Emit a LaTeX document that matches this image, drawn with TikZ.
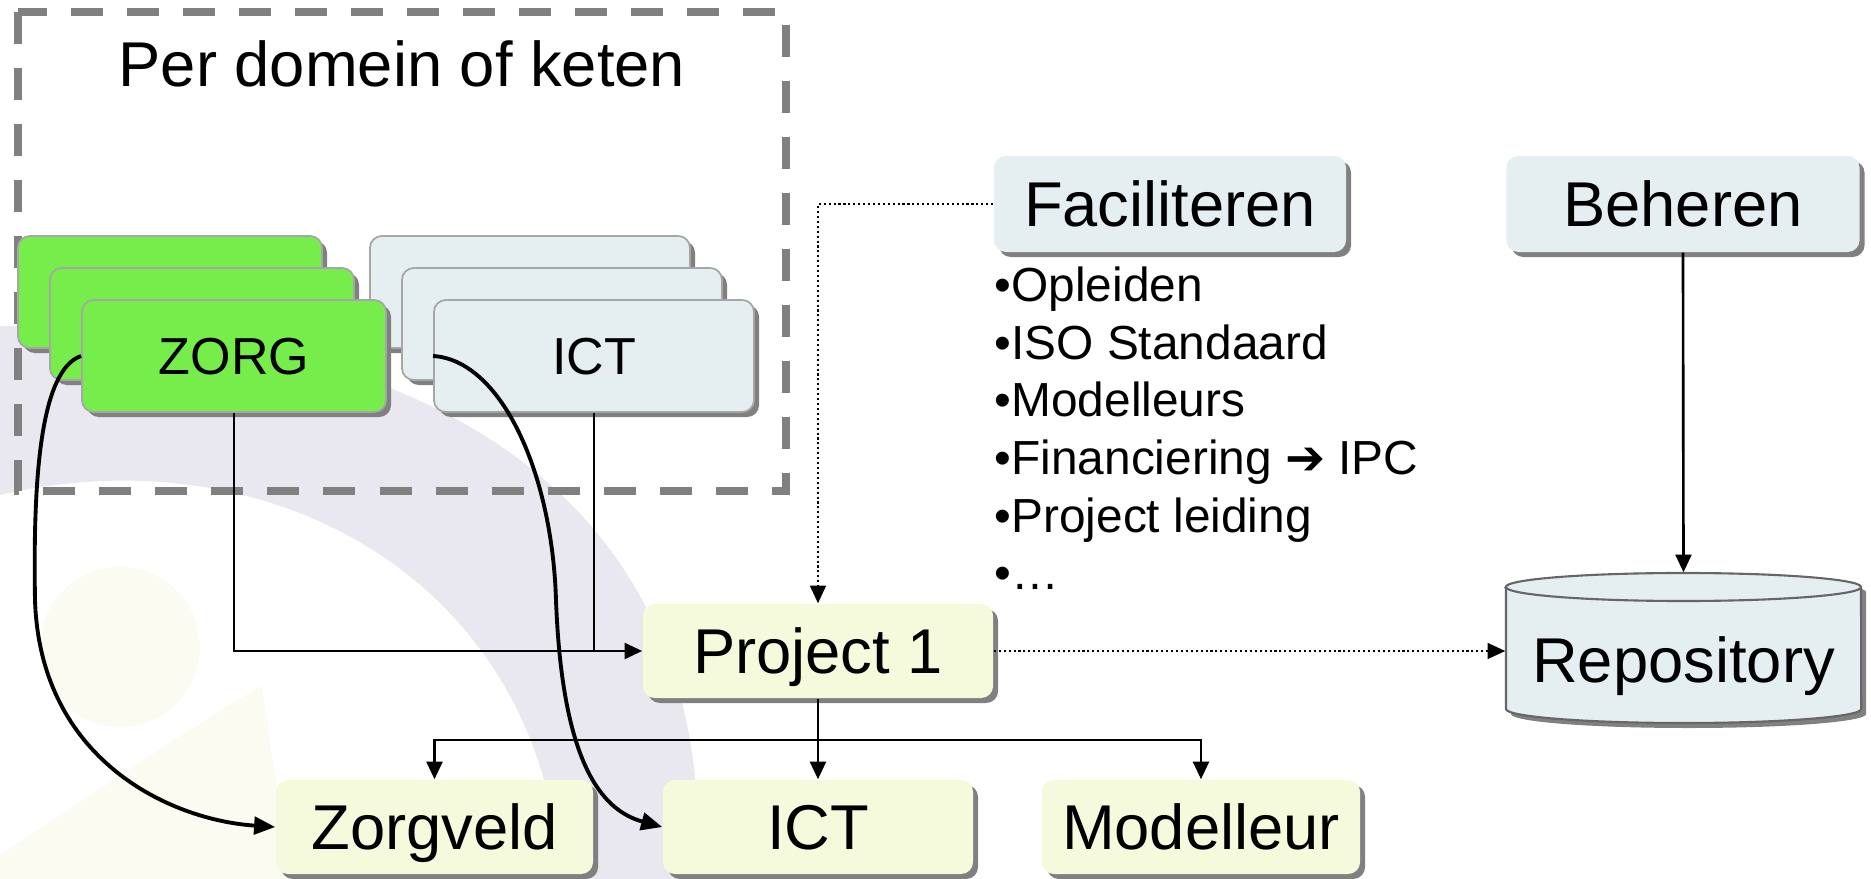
\documentclass[tikz,border=0pt]{standalone}
\usepackage{fontspec}
\setmainfont{Liberation Sans}
\newfontfamily\dingfont{DejaVu Sans}
\usetikzlibrary{shapes.geometric,calc,shadows,arrows.meta}

\definecolor{zorggreen}{RGB}{119,237,76}
\definecolor{ictgrey}{RGB}{229,238,241}
\definecolor{projyellow}{RGB}{245,250,221}
\definecolor{framegrey}{RGB}{128,128,128}
\definecolor{wmlav}{RGB}{233,231,239}
\definecolor{wmyel}{RGB}{251,251,242}

\tikzset{
  shadowed/.style={drop shadow={shadow xshift=0.05cm, shadow yshift=-0.05cm, fill=black!50, opacity=1}},
  stackbox/.style={rectangle, rounded corners=0.12cm, draw=black!35, line width=0.5pt, shadowed, minimum height=1.12cm, text height=10.6pt, text depth=0pt, font=\fontsize{14.8}{17}\selectfont},
  zorgstack/.style={stackbox, fill=zorggreen, minimum width=3.04cm},
  ictstack/.style={stackbox, fill=ictgrey, minimum width=3.2cm},
  bigbox/.style={rectangle, rounded corners=0.12cm, shadowed, text height=12.9pt, text depth=0pt, font=\fontsize{18}{21}\selectfont},
  projbox/.style={bigbox, fill=projyellow, minimum height=0.94cm},
  greybox/.style={bigbox, fill=ictgrey, minimum height=0.96cm},
  titletext/.style={font=\fontsize{18}{21}\selectfont, inner sep=0pt},
  listtext/.style={font=\fontsize{13.6}{16.4}\selectfont, align=left, inner sep=0pt},
  dashframe/.style={draw=framegrey, line width=2pt, dash pattern=on 0.32cm off 0.24cm},
  conn/.style={line width=0.75pt, -{Triangle[length=5pt,width=4.5pt]}},
  curvconn/.style={line width=1.1pt, -{Triangle[length=6pt,width=5pt]}},
  dotconn/.style={line width=0.6pt, dash pattern=on 0.6pt off 0.8pt, -{Triangle[length=5pt,width=4.5pt]}}
}

\begin{document}
\begin{tikzpicture}[x=0.01cm, y=-0.01cm]
\useasboundingbox (0,0) rectangle (1871,879);

%% watermark
\fill[wmlav] (0,326) .. controls (400,320) and (720,480) .. (697,879) -- (560,879) .. controls (545,590) and (280,430) .. (0,495) -- cycle;
\fill[wmyel] (120,647) circle[radius=0.8cm];
\fill[wmyel] (0,855) .. controls (100,790) and (200,720) .. (262,686) -- (290,879) -- (0,879) -- cycle;

%% frame
\draw[dashframe] (18,12) rectangle (786,491);
\node[titletext, anchor=base] (title) at (402,87) {Per domein of keten};

%% ICT stack
\node[ictstack] (ictback) at (530,292) {};
\node[ictstack] (ictmid) at (562,324) {};
\node[ictstack] (ict) at (594,356) {ICT};

%% ZORG stack
\node[zorgstack] (zorgback) at (170,292) {};
\node[zorgstack] (zorgmid) at (202,324) {};
\node[zorgstack] (zorg) at (234,356) {ZORG};

\node[projbox, minimum width=3.5cm] (project) at (818,651) {Project 1};
\node[greybox, minimum width=3.52cm] (facil) at (1170,204) {Faciliteren};
\node[greybox, minimum width=3.53cm] (beheren) at (1683,204) {Beheren};
\node[listtext, anchor=base west] (taken) at (994,590) {•Opleiden\\•ISO Standaard\\•Modelleurs\\•Financiering {\dingfont\bfseries ➔} IPC\\•Project leiding\\•…};

%% repository
\draw[draw=black!60, line width=0.6pt, fill=ictgrey, shadowed] (1506,587) -- (1506,709) arc[start angle=180, end angle=360, x radius=1.775cm, y radius=0.14cm] -- (1861,587) arc[start angle=0, end angle=180, x radius=1.775cm, y radius=0.14cm] -- cycle;
\draw[draw=black!60, line width=0.6pt] (1506,587) arc[start angle=180, end angle=360, x radius=1.775cm, y radius=0.14cm];
\node[rectangle, minimum width=3.55cm, minimum height=1.5cm, text height=19.6pt, text depth=0pt, font=\fontsize{18}{21}\selectfont] (repo) at (1683.5,648) {Repository};

%% bottom row
\node[projbox, minimum width=3.17cm] (zorgveld) at (434.5,827) {Zorgveld};
\node[projbox, minimum width=3.1cm] (ictbot) at (818,827) {ICT};
\node[projbox, minimum width=3.18cm] (modelleur) at (1201,827) {Modelleur};

%% connectors
\draw[conn] (zorg.south) |- (project.west);
\draw[line width=0.75pt] (ict.south) -- (ict.south |- project.west);
\draw[dotconn] (facil.west) -| (project.north);
\draw[dotconn] (project.east) -- (project.east -| repo.west);
\draw[conn] (beheren.south) -- (repo.north);
\coordinate (fork) at (818,740);
\draw[conn] (project.south) -- (ictbot.north);
\draw[conn] (fork) -| (zorgveld.north);
\draw[conn] (fork) -| (modelleur.north);

%% curves
\draw[curvconn] (zorg.west) .. controls (40,370) and (33,480) .. (35,600) .. controls (40,760) and (170,820) .. (zorgveld.west);
\draw[curvconn] (ict.west) .. controls (500,360) and (552,470) .. (556,600) .. controls (562,760) and (600,810) .. (ictbot.west);

\end{tikzpicture}
\end{document}
